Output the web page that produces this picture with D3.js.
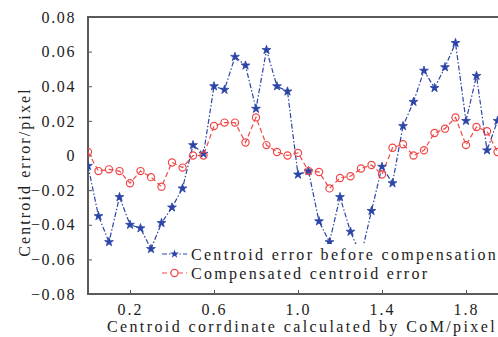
<!DOCTYPE html>
<html>
<head>
<meta charset="utf-8">
<script src="https://cdn.jsdelivr.net/npm/d3@7"></script>
<style>
  body { margin: 0; background: #fff; }
</style>
</head>
<body>
<div id="chart"></div>
<script>
// DATA
const xCoord = [0.00, 0.05, 0.10, 0.15, 0.20, 0.25, 0.30, 0.35, 0.40, 0.45,
                0.50, 0.55, 0.60, 0.65, 0.70, 0.75, 0.80, 0.85, 0.90, 0.95,
                1.00, 1.05, 1.10, 1.15, 1.20, 1.25, 1.30, 1.35, 1.40, 1.45,
                1.50, 1.55, 1.60, 1.65, 1.70, 1.75, 1.80, 1.85, 1.90, 1.95]

const errBefore = [-0.006, -0.035, -0.050, -0.024, -0.040, -0.042, -0.054, -0.039, -0.030, -0.019,
                   0.006, 0.001, 0.040, 0.038, 0.057, 0.052, 0.027, 0.061, 0.040, 0.037,
                   -0.011, -0.009, -0.038, -0.050, -0.024, -0.044, -0.058, -0.032, -0.0065, -0.016,
                   0.017, 0.031, 0.049, 0.039, 0.051, 0.065, 0.020, 0.046, 0.003, 0.020]

const errAfter = [0.002, -0.009, -0.008, -0.009, -0.016, -0.009, -0.0125, -0.018, -0.004, -0.007,
                  0.000, 0.000, 0.017, 0.019, 0.019, 0.0075, 0.022, 0.006, 0.002, 0.000,
                  0.0015, -0.009, -0.0095, -0.019, -0.013, -0.012, -0.0075, -0.0055, -0.011, 0.0045,
                  0.0065, 0.000, 0.003, 0.013, 0.0155, 0.022, 0.006, 0.0165, 0.014, 0.002]

const yTicks = [-0.08, -0.06, -0.04, -0.02, 0, 0.02, 0.04, 0.06, 0.08]
const xTicks = [0.2, 0.6, 1.0, 1.4, 1.8]
const seriesNames = ["Centroid error before compensation", "Compensated centroid error"]

const width = 498, height = 337
const pLeft = 88, pTop = 17, pRight = 508, pBottom = 294

const blue = "#2b44a6", red = "#f04848"
const serif = "'Liberation Serif', 'Times New Roman', serif"

const xScale = d3.scaleLinear().domain([0, 2]).range([pLeft, pRight])
const yScale = d3.scaleLinear().domain([-0.08, 0.08]).range([pBottom, pTop])

const svg = d3.select("#chart").append("svg")
  .attr("width", width)
  .attr("height", height)
  .attr("font-family", serif)

svg.append("defs").append("clipPath").attr("id", "plotClip")
  .append("rect")
  .attr("x", pLeft).attr("y", pTop)
  .attr("width", pRight - pLeft).attr("height", pBottom - pTop)

// AXES
const fmtY = d => d === 0 ? "0" : d3.format(".2f")(d).replace("-", "\u2212")

svg.append("g")
  .attr("transform", `translate(${pLeft},0)`)
  .call(d3.axisLeft(yScale).tickValues(yTicks).tickFormat(fmtY).tickSizeInner(-4).tickSizeOuter(0).tickPadding(12))
  .attr("font-family", serif)
  .call(g => g.select(".domain").remove())
  .call(g => g.selectAll(".tick line").attr("stroke", "#555"))
  .selectAll("text")
  .attr("font-size", 16)
  .attr("letter-spacing", "1.6px")
  .attr("fill", "#222")

svg.append("g")
  .attr("transform", `translate(0,${pBottom})`)
  .call(d3.axisBottom(xScale).tickValues(xTicks).tickFormat(d3.format(".1f")).tickSizeInner(-4).tickSizeOuter(0).tickPadding(10))
  .attr("font-family", serif)
  .call(g => g.select(".domain").remove())
  .call(g => g.selectAll(".tick line").attr("stroke", "#555"))
  .selectAll("text")
  .attr("font-size", 16)
  .attr("letter-spacing", "2px")
  .attr("fill", "#222")

// frame (left, top, bottom)
svg.append("path")
  .attr("d", `M${pRight},${pTop}H${pLeft}V${pBottom}H${pRight}`)
  .attr("fill", "none")
  .attr("stroke", "#5a5a5a")
  .attr("stroke-width", 2)

// axis titles
svg.append("text")
  .attr("x", 302).attr("y", 332)
  .attr("text-anchor", "middle")
  .attr("font-size", 16)
  .attr("letter-spacing", "2.4px")
  .attr("fill", "#222")
  .text("Centroid corrdinate calculated by CoM/pixel")

svg.append("text")
  .attr("transform", "translate(30,172) rotate(-90)")
  .attr("text-anchor", "middle")
  .attr("font-size", 16)
  .attr("letter-spacing", "2.1px")
  .attr("fill", "#222")
  .text("Centroid error/pixel")

// LINES
const plot = svg.append("g").attr("clip-path", "url(#plotClip)")

const line = d3.line().x(d => xScale(d[0])).y(d => yScale(d[1]))
const beforePts = xCoord.map((x, i) => [x, errBefore[i]])
const afterPts = xCoord.map((x, i) => [x, errAfter[i]])

plot.append("path")
  .datum(beforePts)
  .attr("d", line)
  .attr("fill", "none")
  .attr("stroke", blue)
  .attr("stroke-width", 1.2)
  .attr("stroke-dasharray", "5,2,1.5,2")

plot.append("path")
  .datum(afterPts)
  .attr("d", line)
  .attr("fill", "none")
  .attr("stroke", red)
  .attr("stroke-width", 1.2)
  .attr("stroke-dasharray", "5,3")

const star = d3.symbol().type(d3.symbolStar).size(24)

plot.selectAll(".mkBefore")
  .data(beforePts)
  .join("path")
    .attr("class", "mkBefore")
    .attr("transform", d => `translate(${xScale(d[0])},${yScale(d[1])})`)
    .attr("d", star)
    .attr("fill", blue)
    .attr("stroke", blue)
    .attr("stroke-width", 0.8)

plot.selectAll(".mkAfter")
  .data(afterPts)
  .join("circle")
    .attr("class", "mkAfter")
    .attr("cx", d => xScale(d[0]))
    .attr("cy", d => yScale(d[1]))
    .attr("r", 3.6)
    .attr("fill", "none")
    .attr("stroke", red)
    .attr("stroke-width", 1.2)

// LEGEND
const legend = svg.append("g")

legend.append("rect")
  .attr("x", 158).attr("y", 244)
  .attr("width", 350).attr("height", 42)
  .attr("fill", "#fff")

const legendRows = [
  {name: seriesNames[0], color: blue, dash: "5,2,1.5,2", y: 254},
  {name: seriesNames[1], color: red, dash: "5,3", y: 273}
]

legendRows.forEach((r, i) => {
  legend.append("line")
    .attr("x1", 162).attr("x2", 187)
    .attr("y1", r.y).attr("y2", r.y)
    .attr("stroke", r.color)
    .attr("stroke-width", 1.2)
    .attr("stroke-dasharray", r.dash)
  if (i === 0) {
    legend.append("path")
      .attr("transform", `translate(174.5,${r.y})`)
      .attr("d", star)
      .attr("fill", r.color)
  } else {
    legend.append("circle")
      .attr("cx", 174.5).attr("cy", r.y).attr("r", 3.6)
      .attr("fill", "#fff")
      .attr("stroke", r.color)
      .attr("stroke-width", 1.2)
  }
  legend.append("text")
    .attr("x", 191).attr("y", r.y + 5.5)
    .attr("font-size", 16)
    .attr("letter-spacing", "2.3px")
    .attr("fill", "#222")
    .text(r.name)
})
</script>
</body>
</html>
